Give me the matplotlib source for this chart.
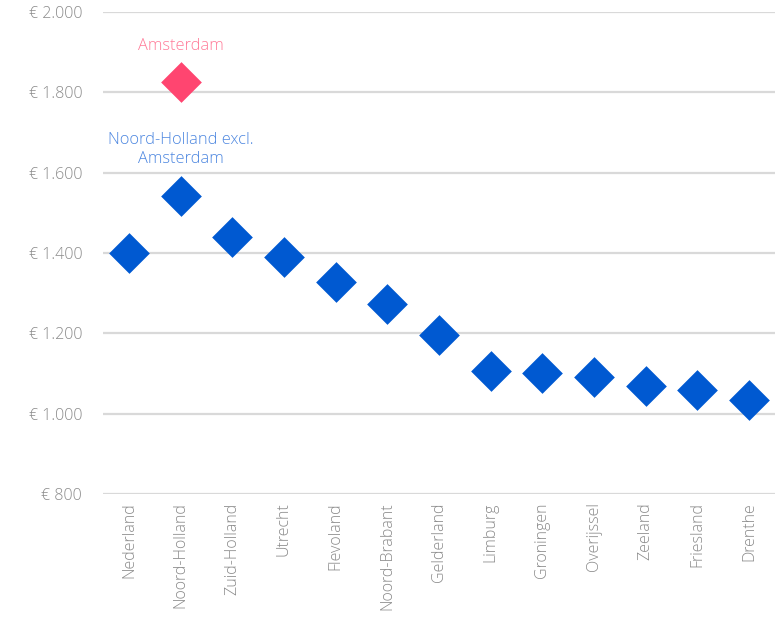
#!/usr/bin/env python3

"""Average value per province, with Amsterdam shown separately."""

import matplotlib.pyplot as plt
from matplotlib.ticker import FuncFormatter

plt.rcParams['font.family'] = ['Open Sans', 'DejaVu Sans']

provinces = ["Nederland", "Noord-Holland", "Zuid-Holland", "Utrecht", "Flevoland",
             "Noord-Brabant", "Gelderland", "Limburg", "Groningen", "Overijssel",
             "Zeeland", "Friesland", "Drenthe"]
values = [1400, 1542, 1440, 1390, 1328, 1273, 1196, 1106, 1101, 1092, 1068, 1058, 1034]

amsterdam_category = "Noord-Holland"
amsterdam_value = 1826

yticks = [800, 1000, 1200, 1400, 1600, 1800, 2000]

blue = "#0059d1"
pink = "#ff4570"
grey = "#8a8a8a"

fig = plt.figure(figsize=(7.75, 6.17), dpi=100)
ax = fig.add_axes([0.133, 0.1994, 0.867, 0.7812])

xs = list(range(len(provinces)))
ax.scatter(xs, values, marker='D', s=430, color=blue, linewidths=0, zorder=3)
xa = provinces.index(amsterdam_category)
ax.scatter([xa], [amsterdam_value], marker='D', s=430, color=pink, linewidths=0, zorder=3)

ax.annotate("Amsterdam", (xa, amsterdam_value), xytext=(0, 25.5), textcoords='offset points',
            ha='center', va='center', color="#ff7b98", fontsize=11.8, fontweight='light')
ax.annotate("Noord-Holland excl.\nAmsterdam", (xa, values[xa]), xytext=(0, 33.5),
            textcoords='offset points', ha='center', va='center', color="#4d87e0",
            fontsize=11.8, fontweight='light', linespacing=1.2)

ax.set_xlim(-0.5, len(provinces) - 0.5)
ax.set_ylim(800, 2000)
ax.set_yticks(yticks)
ax.yaxis.set_major_formatter(FuncFormatter(lambda v, p: "€ " + f"{int(v):,}".replace(",", ".")))
ax.set_xticks(xs)
ax.set_xticklabels(provinces, rotation=90)

ax.grid(axis='y', color="#d9d9d9", linewidth=1.6)
ax.set_axisbelow(True)
for s in ax.spines.values():
    s.set_visible(False)
ax.tick_params(axis='both', length=0, colors=grey, labelsize=11.5)
for lbl in ax.get_xticklabels() + ax.get_yticklabels():
    lbl.set_fontweight('light')
ax.tick_params(axis='y', pad=15)
ax.tick_params(axis='x', pad=6)

plt.savefig("out.png", dpi=100)
